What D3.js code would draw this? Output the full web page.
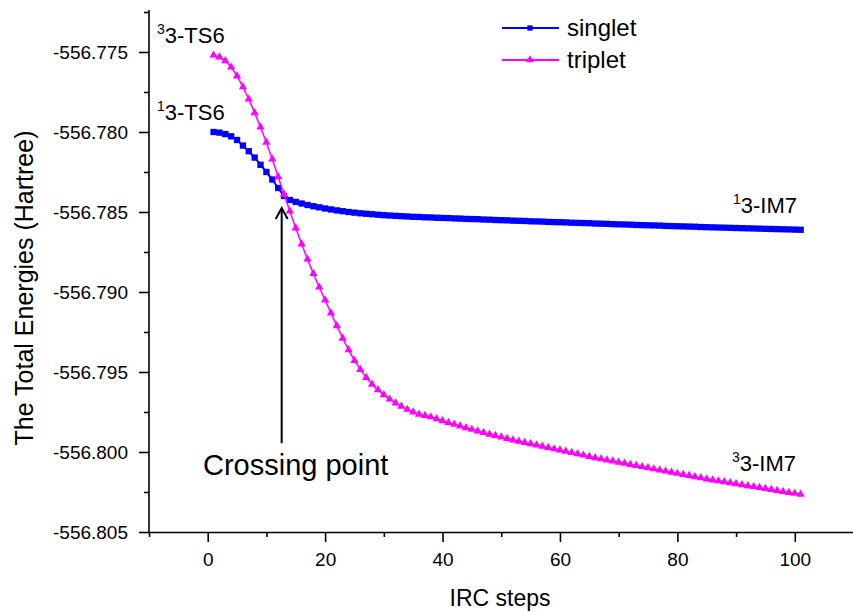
<!DOCTYPE html>
<html>
<head>
<meta charset="utf-8">
<script src="https://cdn.jsdelivr.net/npm/d3@7"></script>
<style>
  body { margin: 0; background: #fff; }
  svg { font-family: Arial, "Liberation Sans", sans-serif; }
  .axis path, .axis line { stroke: #000; stroke-width: 1.6; }
  .axis text { font-size: 19px; fill: #000; }
</style>
</head>
<body>
<div id="container"></div>
<script>
/* DATA */
const steps = d3.range(1, 102);

const singlet = [
  -556.78000, -556.78004, -556.78013, -556.78027, -556.78050, -556.78085, -556.78120, -556.78160, -556.78205, -556.78250,
  -556.78297, -556.78350, -556.78400, -556.78425, -556.78437, -556.78447, -556.78456, -556.78464, -556.78471, -556.78478,
  -556.78484, -556.78490, -556.78495, -556.78500, -556.78504, -556.78508, -556.78511, -556.78514, -556.78517, -556.78520,
  -556.78522, -556.78524, -556.78526, -556.78528, -556.78530, -556.78531, -556.78533, -556.78534, -556.78536, -556.78537,
  -556.78538, -556.78540, -556.78541, -556.78543, -556.78544, -556.78545, -556.78547, -556.78548, -556.78550, -556.78551,
  -556.78552, -556.78554, -556.78555, -556.78556, -556.78558, -556.78559, -556.78560, -556.78562, -556.78563, -556.78564,
  -556.78565, -556.78567, -556.78568, -556.78569, -556.78570, -556.78572, -556.78573, -556.78574, -556.78576, -556.78577,
  -556.78578, -556.78579, -556.78581, -556.78582, -556.78583, -556.78584, -556.78585, -556.78587, -556.78588, -556.78589,
  -556.78590, -556.78591, -556.78592, -556.78594, -556.78595, -556.78596, -556.78597, -556.78598, -556.78599, -556.78600,
  -556.78601, -556.78602, -556.78603, -556.78604, -556.78605, -556.78606, -556.78607, -556.78608, -556.78609, -556.78610,
  -556.78611
];

const triplet = [
  -556.77520, -556.77532, -556.77555, -556.77595, -556.77650, -556.77718, -556.77795, -556.77880, -556.77970, -556.78065,
  -556.78170, -556.78280, -556.78390, -556.78495, -556.78600, -556.78700, -556.78795, -556.78885, -556.78970, -556.79050,
  -556.79132, -556.79212, -556.79290, -556.79362, -556.79428, -556.79485, -556.79535, -556.79577, -556.79612, -556.79643,
  -556.79670, -556.79694, -556.79715, -556.79734, -556.79750, -556.79764, -556.79772, -556.79781, -556.79793, -556.79805,
  -556.79816, -556.79827, -556.79838, -556.79849, -556.79859, -556.79869, -556.79879, -556.79889, -556.79898, -556.79907,
  -556.79916, -556.79925, -556.79933, -556.79941, -556.79949, -556.79957, -556.79965, -556.79973, -556.79981, -556.79988,
  -556.79996, -556.80004, -556.80012, -556.80020, -556.80028, -556.80036, -556.80043, -556.80050, -556.80057, -556.80064,
  -556.80071, -556.80078, -556.80085, -556.80092, -556.80099, -556.80106, -556.80113, -556.80120, -556.80127, -556.80134,
  -556.80141, -556.80148, -556.80155, -556.80162, -556.80169, -556.80175, -556.80181, -556.80187, -556.80193, -556.80199,
  -556.80205, -556.80211, -556.80217, -556.80223, -556.80229, -556.80235, -556.80241, -556.80247, -556.80253, -556.80259,
  -556.80265
];

const xTicks = [0, 20, 40, 60, 80, 100];
const xMinorTicks = [-10, 10, 30, 50, 70, 90, 110];
const yTicks = [-556.805, -556.800, -556.795, -556.790, -556.785, -556.780, -556.775];
const yMinorTicks = [-556.8025, -556.7975, -556.7925, -556.7875, -556.7825, -556.7775, -556.7725];

// crossing arrow, in data units (step, energy)
const arrowStep = 12.6;
const arrowFrom = -556.79945;
const arrowTo = -556.78475;

/* CONSTANTS */
const width = 853, height = 612;
const blue = "#0000ff", magenta = "#ff00ff";
// hyphen instead of unicode minus, like the original
const yFormat = d => d3.format(".3f")(d).replace("\u2212", "-");

const svg = d3.select("#container")
  .append("svg")
  .attr("width", width)
  .attr("height", height);

svg.append("rect").attr("width", width).attr("height", height).attr("fill", "#fff");

/* SCALES */
const xScale = d3.scaleLinear().domain([-10, 110]).range([149, 853.5]);
const yScale = d3.scaleLinear().domain([-556.805, -556.7725]).range([532, 12]);

/* AXES */
const xAxisG = svg.append("g")
  .attr("class", "axis")
  .attr("transform", `translate(0, ${yScale(-556.805)})`)
  .call(d3.axisBottom(xScale).tickValues(xTicks).tickSize(10).tickPadding(11).tickSizeOuter(0));
xAxisG.append("g")
  .call(d3.axisBottom(xScale).tickValues(xMinorTicks).tickSize(5).tickFormat("").tickSizeOuter(0))
  .select(".domain").remove();

const yAxisG = svg.append("g")
  .attr("class", "axis")
  .attr("transform", `translate(${xScale(-10)}, 0)`)
  .call(d3.axisLeft(yScale).tickValues(yTicks).tickSize(10).tickPadding(11).tickSizeOuter(0).tickFormat(yFormat));
yAxisG.append("g")
  .call(d3.axisLeft(yScale).tickValues(yMinorTicks).tickSize(5).tickFormat("").tickSizeOuter(0))
  .select(".domain").remove();
yAxisG.select(".domain").attr("d", `M0,${yScale(-556.805)}V10`);

svg.selectAll(".axis text").attr("font-size", 19);

// axis titles
svg.append("text")
  .attr("x", 500).attr("y", 606)
  .attr("text-anchor", "middle")
  .attr("font-size", 23)
  .text("IRC steps");

svg.append("text")
  .attr("transform", "translate(33, 288) rotate(-90)")
  .attr("text-anchor", "middle")
  .attr("font-size", 25)
  .text("The Total Energies (Hartree)");

/* SERIES */
const series = [
  { name: "singlet", values: singlet, color: blue, width: 2, shape: d3.symbolSquare, size: 40 },
  { name: "triplet", values: triplet, color: magenta, width: 1.5, shape: d3.symbolTriangle, size: 30 }
];

const line = d3.line()
  .x((d, i) => xScale(steps[i]))
  .y(d => yScale(d));

series.forEach(s => {
  const g = svg.append("g");
  g.append("path")
    .attr("d", line(s.values))
    .attr("fill", "none")
    .attr("stroke", s.color)
    .attr("stroke-width", s.width);
  g.selectAll("path.mk")
    .data(s.values)
    .join("path")
    .attr("class", "mk")
    .attr("transform", (d, i) => `translate(${xScale(steps[i])}, ${yScale(d)})`)
    .attr("d", d3.symbol().type(s.shape).size(s.size))
    .attr("fill", s.color);
});

/* LEGEND */
const legend = svg.append("g").attr("transform", "translate(502, 28)");
series.forEach((s, i) => {
  const row = legend.append("g").attr("transform", `translate(0, ${i * 32})`);
  row.append("line").attr("x1", 0).attr("x2", 57)
    .attr("stroke", s.color).attr("stroke-width", 2);
  row.append("path").attr("transform", "translate(28, 0)")
    .attr("d", d3.symbol().type(s.shape).size(28)).attr("fill", s.color);
  row.append("text").attr("x", 65).attr("y", 8)
    .attr("font-size", 24)
    .text(s.name);
});

/* ANNOTATIONS */
const labels = [
  { sup: "3", main: "3-TS6", x: 157, y: 43 },
  { sup: "1", main: "3-TS6", x: 157, y: 120 },
  { sup: "1", main: "3-IM7", x: 733, y: 213 },
  { sup: "3", main: "3-IM7", x: 732, y: 471 }
];
labels.forEach(l => {
  const t = svg.append("text").attr("x", l.x).attr("y", l.y).attr("font-size", 22);
  t.append("tspan").attr("font-size", 14).attr("dy", -9).text(l.sup);
  t.append("tspan").attr("dy", 9).text(l.main);
});

svg.append("text")
  .attr("x", 203).attr("y", 475)
  .attr("font-size", 29)
  .text("Crossing point");

const ax = xScale(arrowStep), ay1 = yScale(arrowFrom), ay2 = yScale(arrowTo);
svg.append("line")
  .attr("x1", ax).attr("x2", ax).attr("y1", ay1).attr("y2", ay2 + 1)
  .attr("stroke", "#000").attr("stroke-width", 2);
svg.append("path")
  .attr("d", `M${ax - 6},${ay2 + 11}L${ax},${ay2}L${ax + 6},${ay2 + 11}`)
  .attr("fill", "none").attr("stroke", "#000").attr("stroke-width", 2);
</script>
</body>
</html>
